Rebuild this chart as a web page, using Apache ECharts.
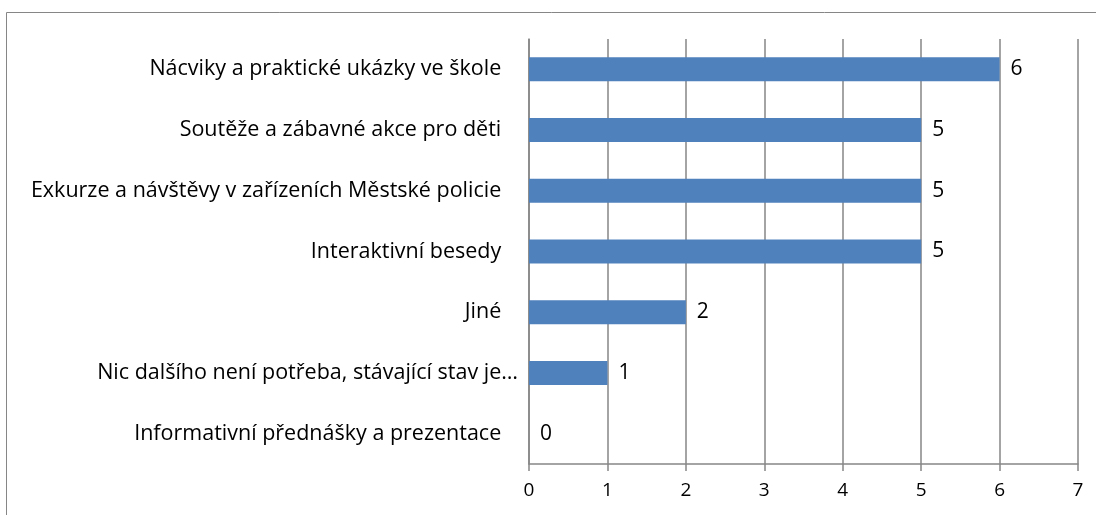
<!DOCTYPE html>
<html>
<head>
<meta charset="utf-8">
<script src="https://cdn.jsdelivr.net/npm/echarts@6/dist/echarts.min.js"></script>
<style>
html, body { margin: 0; padding: 0; background: #fff; }
#chart { width: 1096px; height: 515px; }
</style>
</head>
<body>
<div id="chart"></div>
<script>
// categories top to bottom
const categories = [
    'Nácviky a praktické ukázky ve škole',
    'Soutěže a zábavné akce pro děti',
    'Exkurze a návštěvy v zařízeních Městské policie',
    'Interaktivní besedy',
    'Jiné',
    'Nic dalšího není potřeba, stávající stav je…',
    'Informativní přednášky a prezentace'
]
const counts = [6, 5, 5, 5, 2, 1, 0]
const xTicks = [0, 1, 2, 3, 4, 5, 6, 7]

const font = '"Open Sans", sans-serif'
const gray = '#868686'

const myChart = echarts.init(document.getElementById('chart'))
const option = {
    animation: false,
    textStyle: { fontFamily: font },
    graphic: [{
        type: 'rect',
        shape: { x: 6.5, y: 12.5, width: 1200, height: 600 },
        style: { fill: 'none', stroke: gray, lineWidth: 1 },
        silent: true
    }],
    grid: { left: 529, right: 18, top: 39, bottom: 51 },
    xAxis: {
        type: 'value',
        min: xTicks[0],
        max: xTicks[xTicks.length - 1],
        interval: 1,
        axisLine: { show: true, lineStyle: { color: gray, width: 1.5 } },
        axisTick: { show: true, length: 7, lineStyle: { color: gray, width: 1.5 } },
        splitLine: { show: true, lineStyle: { color: gray, width: 1.5 } },
        axisLabel: { color: '#000', fontSize: 19, margin: 17, fontFamily: font }
    },
    yAxis: {
        type: 'category',
        inverse: true,
        data: categories,
        axisLine: { lineStyle: { color: gray, width: 1.5 } },
        axisTick: { length: 7, lineStyle: { color: gray, width: 1.5 } },
        axisLabel: {
            color: '#000',
            fontSize: 21.5,
            margin: 11,
            fontFamily: font,
            formatter: (v) => v.endsWith('…') ? v : v + '   '
        }
    },
    series: [{
        type: 'bar',
        data: counts,
        barWidth: 24,
        itemStyle: { color: '#4F81BD' },
        label: {
            show: true,
            position: 'right',
            distance: 11,
            color: '#000',
            fontSize: 21,
            fontFamily: font
        }
    }]
}
myChart.setOption(option)
</script>
</body>
</html>
